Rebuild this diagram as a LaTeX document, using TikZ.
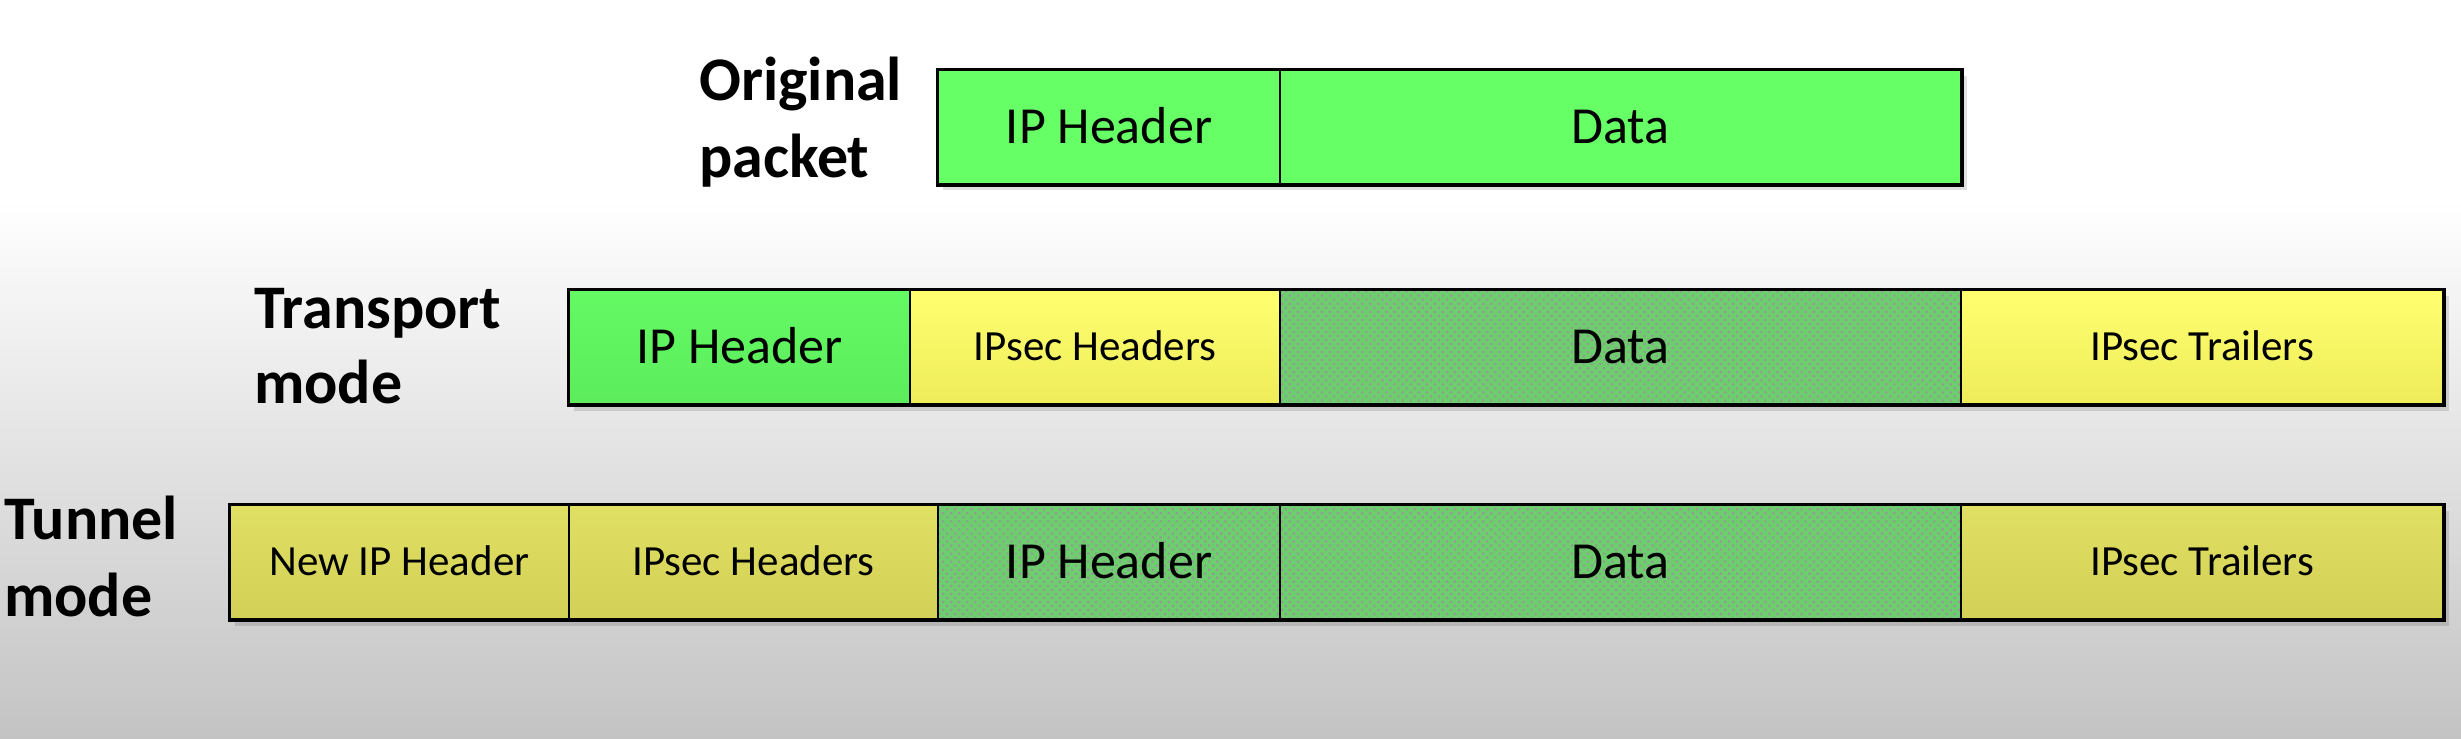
\documentclass[tikz,border=0pt]{standalone}
\usepackage{fontspec}
\setmainfont{Carlito}
\usetikzlibrary{patterns.meta}
\definecolor{pgreen}{RGB}{102,255,102}
\definecolor{tgreen}{RGB}{100,250,100}
\definecolor{tgreenb}{RGB}{92,236,92}
\definecolor{yeltop}{RGB}{255,255,112}
\definecolor{yelbot}{RGB}{238,236,90}
\definecolor{oltop}{RGB}{224,224,100}
\definecolor{olbot}{RGB}{210,208,86}
\definecolor{hgreen}{RGB}{108,206,108}
\definecolor{hdot}{RGB}{152,152,152}
\definecolor{bggray}{RGB}{195,195,195}
\begin{document}
\begin{tikzpicture}[x=1pt,y=-1pt,
  field/.style={draw=black, line width=2pt, rectangle, inner sep=0pt,
    anchor=north west, minimum height=114pt, text height=33pt, text depth=0pt,
    font=\fontsize{52}{60}\selectfont},
  small/.style={font=\fontsize{43}{50}\selectfont, text height=27pt},
  green/.style={fill=pgreen},
  tgreenf/.style={top color=tgreen, bottom color=tgreenb},
  yel/.style={top color=yeltop, bottom color=yelbot},
  olive/.style={top color=oltop, bottom color=olbot},
  hatched/.style={preaction={fill=hgreen},
    pattern={Dots[distance=5.7pt, radius=1.5pt, angle=45]}, pattern color=hdot},
  frame/.style={draw=black, line width=3pt},
  shade1/.style={fill=black, opacity=0.12},
  shade2/.style={fill=black, opacity=0.18},
  lbl/.style={font=\fontsize{62}{76}\selectfont\bfseries, inner sep=0pt, anchor=base west}
]
% background
\useasboundingbox (0,0) rectangle (2461,739);
\fill[white] (0,0) rectangle (2461,200);
\shade[top color=white, bottom color=bggray] (0,199) rectangle (2461,739);

% shadows
\fill[shade1] (943,76) rectangle (1967,190);
\fill[shade2] (940,72) rectangle (1964,186);
\fill[shade1] (574,296) rectangle (2449,411);
\fill[shade2] (571,292) rectangle (2446,407);
\fill[shade1] (235,511) rectangle (2449,626);
\fill[shade2] (232,507) rectangle (2446,622);

% labels
\node[lbl] (origA) at (699,100) {Original};
\node[lbl] (origB) at (699,177) {packet};
\node[lbl] (tranA) at (254,328) {Transport};
\node[lbl] (tranB) at (254,403) {mode};
\node[lbl] (tunA) at (4,539) {Tunnel};
\node[lbl] (tunB) at (4,616) {mode};

% original packet
\node[field, green, minimum width=342pt] (o1) at (937,69) {IP Header};
\node[field, green, minimum width=681pt] (o2) at (1279,69) {Data};
\draw[frame] (o1.north west) rectangle (o2.south east);

% transport mode
\node[field, tgreenf, minimum width=341pt] (t1) at (568,289) {IP Header};
\node[field, yel, small, minimum width=370pt] (t2) at (909,289) {IPsec Headers};
\node[field, hatched, minimum width=681pt] (t3) at (1279,289) {Data};
\node[field, yel, small, minimum width=482pt] (t4) at (1960,289) {IPsec Trailers};
\draw[frame] (t1.north west) rectangle (t4.south east);

% tunnel mode
\node[field, olive, small, minimum width=339pt] (n1) at (229,504) {New IP Header};
\node[field, olive, small, minimum width=369pt] (n2) at (568,504) {IPsec Headers};
\node[field, hatched, minimum width=342pt] (n3) at (937,504) {IP Header};
\node[field, hatched, minimum width=681pt] (n4) at (1279,504) {Data};
\node[field, olive, small, minimum width=482pt] (n5) at (1960,504) {IPsec Trailers};
\draw[frame] (n1.north west) rectangle (n5.south east);
\end{tikzpicture}
\end{document}
